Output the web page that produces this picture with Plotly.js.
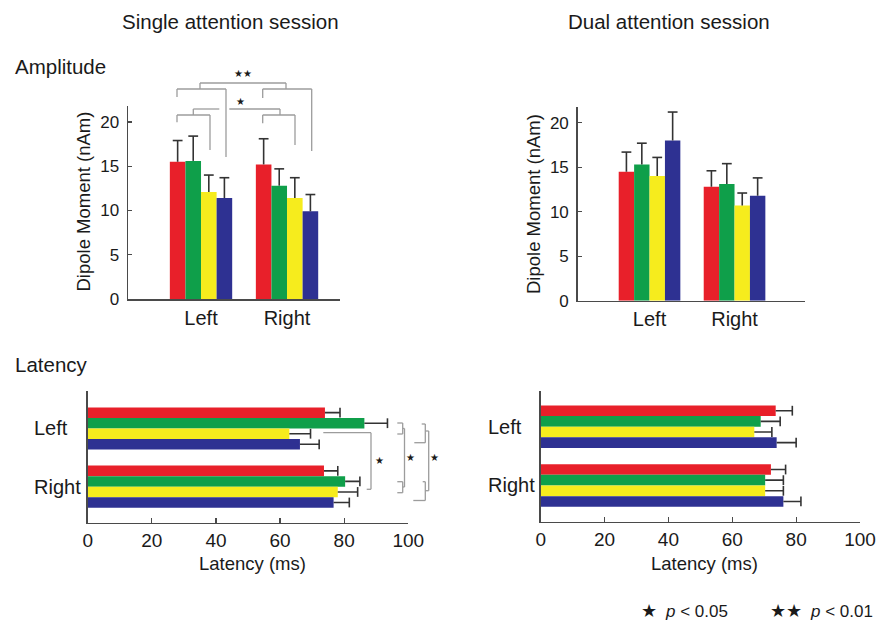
<!DOCTYPE html>
<html>
<head>
<meta charset="utf-8">
<script src="https://cdn.plot.ly/plotly-3.0.1.min.js"></script>
<style>html,body{margin:0;padding:0;background:#fff;}#chart{width:877px;height:621px;}</style>
</head>
<body>
<div id="chart"></div>
<script>
// ---------- data ----------
const categories = ['Left', 'Right'];
const seriesNames = ['Condition 1', 'Condition 2', 'Condition 3', 'Condition 4'];
const seriesColors = ['#e8202a', '#0f9f4a', '#f6ec1d', '#2e3192'];

// Amplitude (nAm), single attention session
const ampSingleRed = [15.5, 15.2];
const ampSingleGreen = [15.6, 12.8];
const ampSingleYellow = [12.1, 11.4];
const ampSingleBlue = [11.4, 9.9];
const ampSingleRedErr = [2.4, 2.9];
const ampSingleGreenErr = [2.8, 1.9];
const ampSingleYellowErr = [1.9, 2.3];
const ampSingleBlueErr = [2.3, 1.9];

// Amplitude (nAm), dual attention session
const ampDualRed = [14.5, 12.8];
const ampDualGreen = [15.3, 13.1];
const ampDualYellow = [14.0, 10.7];
const ampDualBlue = [18.0, 11.8];
const ampDualRedErr = [2.2, 1.8];
const ampDualGreenErr = [2.4, 2.3];
const ampDualYellowErr = [2.1, 1.4];
const ampDualBlueErr = [3.2, 2.0];

// Latency (ms), single attention session
const latSingleRed = [74.0, 73.7];
const latSingleGreen = [86.3, 80.3];
const latSingleYellow = [62.9, 78.0];
const latSingleBlue = [66.2, 76.7];
const latSingleRedErr = [4.7, 4.3];
const latSingleGreenErr = [7.2, 4.6];
const latSingleYellowErr = [6.6, 6.2];
const latSingleBlueErr = [6.0, 4.9];

// Latency (ms), dual attention session
const latDualRed = [73.6, 72.1];
const latDualGreen = [68.9, 70.3];
const latDualYellow = [66.9, 70.3];
const latDualBlue = [73.9, 76.0];
const latDualRedErr = [5.2, 4.6];
const latDualGreenErr = [6.1, 5.7];
const latDualYellowErr = [5.5, 5.7];
const latDualBlueErr = [6.1, 5.5];

const ampTicks = [0, 5, 10, 15, 20];
const latTicks = [0, 20, 40, 60, 80, 100];

// ---------- layout helpers ----------
const W = 877, H = 621;
const PX = x => x / W;
const PY = y => 1 - y / H;
const FONT = 'Liberation Sans, Arial, Helvetica, sans-serif';
const TXT = '#1a1a1a';
const AX = '#4a4a4a';
const BR = '#9c9c9c';
const ERR = '#333333';

// bars carry the whisker (no caps); grouped scatter markers draw the caps at the whisker ends
function vbars(vals, errs, xa, ya) {
  const bars = vals.map((v, i) => ({
    type: 'bar', x: categories, y: v, name: seriesNames[i], showlegend: false,
    xaxis: xa, yaxis: ya,
    marker: {color: seriesColors[i], line: {width: 0}},
    error_y: {type: 'data', symmetric: false, array: errs[i], arrayminus: errs[i].map(() => 0),
              color: ERR, thickness: 1.6, width: 0}
  }));
  const caps = vals.map((v, i) => ({
    type: 'scatter', mode: 'markers', x: categories, y: v.map((d, j) => d + errs[i][j]),
    name: seriesNames[i] + ' SD', showlegend: false, xaxis: xa, yaxis: ya, cliponaxis: false,
    marker: {symbol: 'line-ew', size: 7, color: ERR, line: {color: ERR, width: 1.6}}
  }));
  return bars.concat(caps);
}
function hbars(vals, errs, xa, ya) {
  const bars = vals.map((v, i) => ({
    type: 'bar', orientation: 'h', y: categories, x: v, name: seriesNames[i], showlegend: false,
    xaxis: xa, yaxis: ya,
    marker: {color: seriesColors[i], line: {width: 0}},
    error_x: {type: 'data', symmetric: false, array: errs[i], arrayminus: errs[i].map(() => 0),
              color: ERR, thickness: 1.6, width: 0}
  }));
  const caps = vals.map((v, i) => ({
    type: 'scatter', mode: 'markers', orientation: 'h', y: categories, x: v.map((d, j) => d + errs[i][j]),
    name: seriesNames[i] + ' SD', showlegend: false, xaxis: xa, yaxis: ya, cliponaxis: false,
    marker: {symbol: 'line-ns', size: 7, color: ERR, line: {color: ERR, width: 1.6}}
  }));
  return bars.concat(caps);
}

const traces = [].concat(
  vbars([ampSingleRed, ampSingleGreen, ampSingleYellow, ampSingleBlue],
        [ampSingleRedErr, ampSingleGreenErr, ampSingleYellowErr, ampSingleBlueErr], 'x', 'y'),
  vbars([ampDualRed, ampDualGreen, ampDualYellow, ampDualBlue],
        [ampDualRedErr, ampDualGreenErr, ampDualYellowErr, ampDualBlueErr], 'x2', 'y2'),
  hbars([latSingleRed, latSingleGreen, latSingleYellow, latSingleBlue],
        [latSingleRedErr, latSingleGreenErr, latSingleYellowErr, latSingleBlueErr], 'x3', 'y3'),
  hbars([latDualRed, latDualGreen, latDualYellow, latDualBlue],
        [latDualRedErr, latDualGreenErr, latDualYellowErr, latDualBlueErr], 'x4', 'y4')
);

const baseAxis = {
  showline: true, linecolor: AX, linewidth: 1.5, showgrid: false, zeroline: false,
  tickfont: {family: FONT, size: 17, color: TXT}, fixedrange: true
};
const catXAxis = (dom, range, anchor) => Object.assign({}, baseAxis, {
  domain: dom, range: range, anchor: anchor, ticks: '', type: 'category',
  tickfont: {family: FONT, size: 20, color: TXT}
});
const ampYAxis = (dom, anchor) => Object.assign({}, baseAxis, {
  domain: dom, range: [0, 21.8], anchor: anchor, tickvals: ampTicks,
  ticks: 'inside', ticklen: 4, tickcolor: AX, tickwidth: 1.2, ticklabelstandoff: 4
});
const latXAxis = (dom, anchor) => Object.assign({}, baseAxis, {
  domain: dom, range: [0, 100], anchor: anchor, tickvals: latTicks,
  ticks: 'inside', ticklen: 5, tickcolor: AX, tickwidth: 1.2,
  tickfont: {family: FONT, size: 19, color: TXT}
});
const catYAxis = (dom, range, anchor) => Object.assign({}, baseAxis, {
  domain: dom, range: range, anchor: anchor, ticks: '', type: 'category', showticklabels: false
});

// ---------- annotations ----------
const ann = [];
function txt(text, x, y, size, opts) {
  ann.push(Object.assign({text: text, x: PX(x), y: PY(y), xref: 'paper', yref: 'paper',
    showarrow: false, font: {family: FONT, size: size, color: TXT},
    xanchor: 'center', yanchor: 'middle'}, opts || {}));
}
txt('Single attention session', 230.5, 21, 20.5);
txt('Dual attention session', 668.7, 21, 20.5);
txt('Amplitude', 13, 66, 20.5, {xanchor: 'left'});
txt('Latency', 13, 365, 20.5, {xanchor: 'left'});
txt('Dipole Moment (nAm)', 82.5, 202, 18.5, {textangle: -90});
txt('Dipole Moment (nAm)', 533, 204, 18.5, {textangle: -90});
txt('Latency (ms)', 252, 563, 18.5);
txt('Latency (ms)', 704, 563, 18.5);
// category labels of the horizontal bar charts (left aligned as in the figure)
categories.forEach((c, i) => {
  ann.push({text: c, x: PX(31.5), xref: 'paper', y: i, yref: 'y3', xanchor: 'left', yanchor: 'middle',
    showarrow: false, font: {family: FONT, size: 20, color: TXT}});
  ann.push({text: c, x: PX(485.5), xref: 'paper', y: i, yref: 'y4', xanchor: 'left', yanchor: 'middle',
    showarrow: false, font: {family: FONT, size: 20, color: TXT}});
});
// significance stars
txt('★★', 242.7, 74, 10);
txt('★', 240, 101.5, 10);
txt('★', 379.3, 460, 10);
txt('★', 410, 457, 10);
txt('★', 434, 457.3, 10);
// p-value key
txt('★', 649, 611, 18);
txt('<i>p</i> &lt; 0.05', 663, 611, 17, {xanchor: 'left'});
txt('★★', 785.5, 611, 18);
txt('<i>p</i> &lt; 0.01', 808, 611, 17, {xanchor: 'left'});

// ---------- significance brackets ----------
const shapes = [];
function seg(x0, y0, x1, y1) {
  shapes.push({type: 'line', xref: 'paper', yref: 'paper', x0: PX(x0), y0: PY(y0), x1: PX(x1), y1: PY(y1),
    line: {color: BR, width: 1.3}});
}
// amplitude, single: "**"
seg(200, 83, 286, 83); seg(200, 83, 200, 89); seg(286, 83, 286, 89);
seg(177, 89, 226, 89); seg(177, 89, 177, 97); seg(226, 89, 226, 157);
seg(262.7, 89, 311.7, 89); seg(262.7, 89, 262.7, 98); seg(311.7, 89, 311.7, 151);
// amplitude, single: "*"
seg(193.3, 109, 219.3, 109); seg(229.3, 109, 280, 109);
seg(193.3, 109, 193.3, 115); seg(280, 109, 280, 115);
seg(177, 115, 210, 115); seg(177, 115, 177, 122.3); seg(210, 115, 210, 150);
seg(262.7, 115, 295, 115); seg(262.7, 115, 262.7, 123.3); seg(295, 115, 295, 145);
// latency, single: bracket A
seg(323.3, 432.7, 371, 432.7); seg(371, 432.7, 371, 489.3); seg(366.7, 489.3, 371, 489.3);
// bracket B
seg(397.3, 423, 402.7, 423); seg(402.7, 423, 402.7, 434); seg(397.3, 434, 402.7, 434);
seg(402.7, 428.5, 404.5, 428.5); seg(404.5, 428.5, 404.5, 487);
seg(397.3, 481.7, 402.7, 481.7); seg(402.7, 481.7, 402.7, 492.7); seg(397.3, 492.7, 402.7, 492.7);
seg(402.7, 487, 404.5, 487);
// bracket C
seg(421.7, 424, 425.3, 424); seg(425.3, 424, 425.3, 442.7); seg(414.3, 442.7, 425.3, 442.7);
seg(425.3, 431, 428.7, 431); seg(428.7, 431, 428.7, 490.7);
seg(422.7, 481.7, 425.3, 481.7); seg(425.3, 481.7, 425.3, 500.5); seg(413.3, 500.5, 425.3, 500.5);
seg(425.3, 490.7, 428.7, 490.7);

// ---------- layout ----------
const layout = {
  width: W, height: H, margin: {l: 0, r: 0, t: 0, b: 0},
  paper_bgcolor: '#fff', plot_bgcolor: 'rgba(0,0,0,0)',
  barmode: 'group', bargap: 0.275, bargroupgap: 0,
  scattermode: 'group', scattergap: 0.275,
  showlegend: false,
  font: {family: FONT, color: TXT},
  xaxis: catXAxis([PX(128), PX(340)], [-0.849, 1.616], 'y'),
  yaxis: ampYAxis([PY(299), PY(106)], 'x'),
  xaxis2: catXAxis([PX(577.7), PX(805)], [-0.845, 1.829], 'y2'),
  yaxis2: ampYAxis([PY(300.7), PY(106.7)], 'x2'),
  xaxis3: latXAxis([PX(87.7), PX(408.3)], 'y3'),
  yaxis3: catYAxis([PY(522.7), PY(391)], [1.619, -0.644], 'x3'),
  xaxis4: latXAxis([PX(540.7), PX(860)], 'y4'),
  yaxis4: catYAxis([PY(521.7), PY(391)], [1.616, -0.607], 'x4'),
  annotations: ann,
  shapes: shapes
};

Plotly.newPlot('chart', traces, layout, {displayModeBar: false, staticPlot: true});
</script>
</body>
</html>
